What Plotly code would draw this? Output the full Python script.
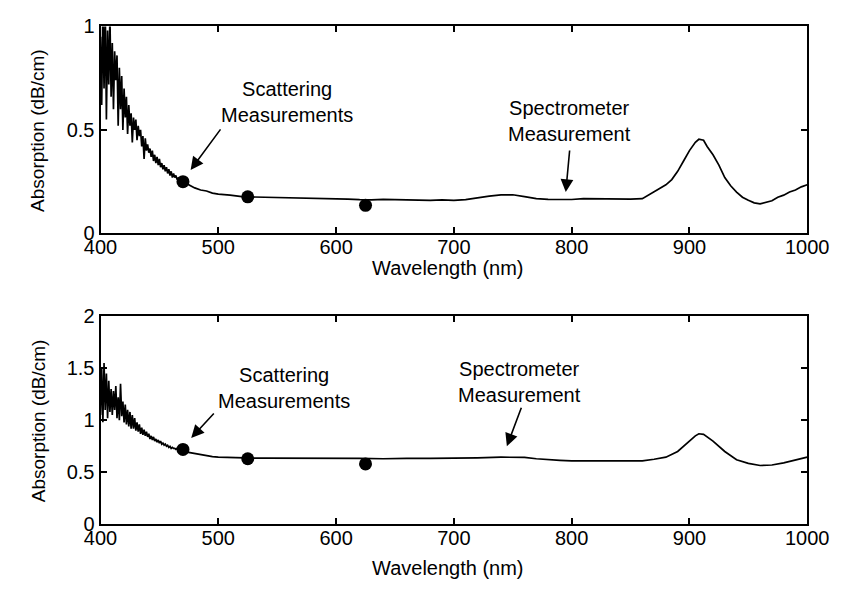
import plotly.graph_objects as go

# ---------------- data ----------------
# Top panel: dense noisy region 400-470 nm (1 nm step)
top_wl_noisy = list(range(400, 471))
top_abs_noisy = [
    0.95, 0.62, 1.08, 0.70, 1.10, 0.55, 0.98, 0.72, 1.05, 0.66,
    0.92, 0.60, 0.88, 0.74, 0.86, 0.52, 0.80, 0.60, 0.76, 0.50,
    0.70, 0.56, 0.66, 0.48, 0.62, 0.52, 0.58, 0.44, 0.56, 0.50,
    0.55, 0.45, 0.52, 0.47, 0.50, 0.42, 0.47, 0.36, 0.46, 0.40,
    0.43, 0.39, 0.41, 0.37, 0.40, 0.35, 0.38, 0.34, 0.37, 0.33,
    0.36, 0.32, 0.34, 0.31, 0.33, 0.30, 0.32, 0.29, 0.31, 0.28,
    0.30, 0.27, 0.29, 0.27, 0.28, 0.26, 0.27, 0.25, 0.27, 0.25,
    0.25,
]
top_wl_rest = [475, 480, 485, 490, 495, 500, 510, 520, 530, 540, 550, 560, 570, 580, 590,
               600, 610, 620, 630, 640, 650, 660, 670, 680, 690, 700, 710, 720, 730, 740,
               750, 760, 770, 780, 790, 800, 810, 820, 830, 840, 850, 860, 865, 870, 875,
               880, 885, 890, 895, 900, 905, 908, 912, 915, 920, 925, 930, 935, 940, 945,
               950, 955, 960, 965, 970, 975, 980, 985, 990, 995, 1000]
top_abs_rest = [0.235, 0.22, 0.21, 0.205, 0.195, 0.19, 0.185, 0.178, 0.176, 0.175, 0.172, 0.172, 0.170, 0.171, 0.169,
                0.169, 0.166, 0.163, 0.162, 0.165, 0.164, 0.162, 0.160, 0.160, 0.162, 0.160, 0.163, 0.172, 0.180, 0.186,
                0.187, 0.178, 0.168, 0.165, 0.163, 0.164, 0.168, 0.167, 0.169, 0.166, 0.166, 0.168, 0.185, 0.20, 0.215,
                0.235, 0.26, 0.30, 0.35, 0.40, 0.44, 0.455, 0.45, 0.42, 0.38, 0.33, 0.27, 0.23, 0.20, 0.175,
                0.16, 0.148, 0.143, 0.152, 0.158, 0.175, 0.185, 0.20, 0.21, 0.225, 0.235]

# Bottom panel
bot_wl_noisy = list(range(400, 471))
bot_abs_noisy = [
    1.05, 1.50, 0.98, 1.55, 1.10, 1.45, 1.02, 1.38, 1.08, 1.30,
    1.05, 1.28, 1.10, 1.33, 1.02, 1.22, 1.00, 1.35, 1.04, 1.18,
    0.98, 1.15, 0.96, 1.10, 0.94, 1.08, 0.92, 1.05, 0.92, 1.02,
    0.90, 0.98, 0.89, 0.96, 0.87, 0.93, 0.86, 0.91, 0.85, 0.89,
    0.84, 0.87, 0.82, 0.85, 0.81, 0.84, 0.80, 0.82, 0.79, 0.81,
    0.78, 0.80, 0.77, 0.78, 0.76, 0.77, 0.75, 0.76, 0.74, 0.75,
    0.73, 0.74, 0.73, 0.73, 0.72, 0.73, 0.71, 0.72, 0.71, 0.71,
    0.70,
]
bot_wl_rest = [475, 480, 485, 490, 495, 500, 510, 520, 530, 540, 560, 580, 600, 620, 640,
               650, 660, 680, 700, 720, 740, 760, 770, 780, 790, 800, 820, 840, 860, 870,
               880, 890, 900, 905, 908, 912, 920, 930, 940, 950, 960, 970, 980, 990, 1000]
bot_abs_rest = [0.69, 0.675, 0.665, 0.655, 0.65, 0.645, 0.64, 0.637, 0.635, 0.635, 0.636, 0.636, 0.636, 0.634, 0.63,
                0.633, 0.633, 0.633, 0.633, 0.638, 0.645, 0.643, 0.63, 0.62, 0.615, 0.61, 0.61, 0.608, 0.61, 0.625,
                0.645, 0.70, 0.80, 0.85, 0.87, 0.865, 0.80, 0.70, 0.62, 0.585, 0.565, 0.57, 0.59, 0.62, 0.645]

# Scattering measurement points
scat_wl = [470, 525, 625]
scat_top = [0.25, 0.177, 0.136]
scat_bot = [0.72, 0.63, 0.58]

x_ticks = [400, 500, 600, 700, 800, 900, 1000]
top_y_ticks = [0, 0.5, 1]
bot_y_ticks = [0, 0.5, 1, 1.5, 2]

# ---------------- figure ----------------
W, H = 855, 594
FONT = "Liberation Sans, Arial, sans-serif"

def px_x(p):
    return p / W

def px_y(p):
    return 1 - p / H

xdom = [px_x(87.5), px_x(828)]
top_dom = [px_y(231), px_y(16)]
bot_dom = [px_y(533), px_y(317)]

fig = go.Figure()
line_style = dict(color="black", width=1.7)
fig.add_trace(go.Scatter(x=top_wl_noisy + top_wl_rest, y=top_abs_noisy + top_abs_rest,
                         mode="lines", line=line_style, xaxis="x", yaxis="y", showlegend=False))
fig.add_trace(go.Scatter(x=scat_wl, y=scat_top, mode="markers",
                         marker=dict(color="black", size=13), xaxis="x", yaxis="y", showlegend=False))
fig.add_trace(go.Scatter(x=bot_wl_noisy + bot_wl_rest, y=bot_abs_noisy + bot_abs_rest,
                         mode="lines", line=line_style, xaxis="x2", yaxis="y2", showlegend=False))
fig.add_trace(go.Scatter(x=scat_wl, y=scat_bot, mode="markers",
                         marker=dict(color="black", size=13), xaxis="x2", yaxis="y2", showlegend=False))

axis_common = dict(showline=True, linecolor="black", linewidth=2, mirror="ticks",
                   ticks="inside", ticklen=6, tickwidth=1.5, tickcolor="black",
                   showgrid=False, zeroline=False,
                   tickfont=dict(family=FONT, size=20, color="black"))

fig.update_layout(
    width=W, height=H,
    margin=dict(l=0, r=0, t=0, b=0),
    paper_bgcolor="white", plot_bgcolor="white",
    xaxis=dict(domain=xdom, anchor="y", range=[400, 1000], tickvals=x_ticks,
               ticklabelstandoff=-5, **axis_common),
    yaxis=dict(domain=top_dom, anchor="x", range=[0, 1], tickvals=top_y_ticks,
               ticktext=["0", "0.5", "1"], **axis_common),
    xaxis2=dict(domain=xdom, anchor="y2", range=[400, 1000], tickvals=x_ticks,
                ticklabelstandoff=-5, **axis_common),
    yaxis2=dict(domain=bot_dom, anchor="x2", range=[0, 2], tickvals=bot_y_ticks,
                ticktext=["0", "0.5", "1", "1.5", "2"], **axis_common),
)

tf = dict(family=FONT, size=20, color="black")
ann = []
# axis titles
for yc in [px_y(123.5), px_y(425)]:
    ann.append(dict(xref="paper", yref="paper", x=px_x(22), y=yc, text="Absorption (dB/cm)",
                    textangle=-90, showarrow=False, font=dict(family=FONT, size=19, color="black"),
                    xanchor="center", yanchor="middle"))
for yc in [px_y(267), px_y(578)]:
    ann.append(dict(xref="paper", yref="paper", x=px_x(452), y=yc, text="Wavelength (nm)",
                    showarrow=False, font=tf, xanchor="center", yanchor="middle"))

# text labels
ann.append(dict(xref="paper", yref="paper", x=px_x(283), y=px_y(94), text="Scattering<br>Measurements",
                showarrow=False, font=tf, xanchor="center", yanchor="middle"))
ann.append(dict(xref="paper", yref="paper", x=px_x(579), y=px_y(114), text="Spectrometer<br>Measurement",
                showarrow=False, font=tf, xanchor="center", yanchor="middle"))
ann.append(dict(xref="paper", yref="paper", x=px_x(280), y=px_y(391), text="Scattering<br>Measurements",
                showarrow=False, font=tf, xanchor="center", yanchor="middle"))
ann.append(dict(xref="paper", yref="paper", x=px_x(527), y=px_y(385), text="Spectrometer<br>Measurement",
                showarrow=False, font=tf, xanchor="center", yanchor="middle"))

# arrows (head at data point, tail offset in pixels)
arrow = dict(showarrow=True, arrowhead=2, arrowsize=1.6, arrowwidth=1.6, arrowcolor="black", text="")
ann.append(dict(xref="x", yref="y", x=476.5, y=0.307, ax=31, ay=-42, **arrow))
ann.append(dict(xref="x", yref="y", x=795, y=0.20, ax=4, ay=-43, **arrow))
ann.append(dict(xref="x2", yref="y2", x=477, y=0.83, ax=24, ay=-26, **arrow))
ann.append(dict(xref="x2", yref="y2", x=745, y=0.75, ax=15, ay=-40, **arrow))

fig.update_layout(annotations=ann)
fig.write_html("out.html")
